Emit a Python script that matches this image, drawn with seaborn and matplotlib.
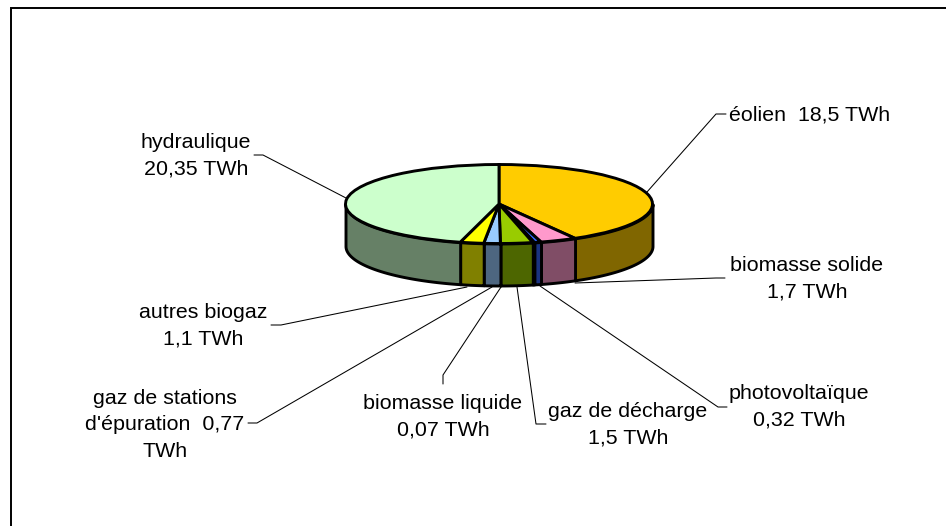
import matplotlib
matplotlib.use("Agg")
import matplotlib.pyplot as plt
import numpy as np
import seaborn as sns

# --- data ---
names = ["éolien", "biomasse solide", "photovoltaïque", "biomasse liquide",
         "gaz de décharge", "gaz de stations d'épuration", "autres biogaz", "hydraulique"]
values = [18.5, 1.7, 0.32, 0.07, 1.5, 0.77, 1.1, 20.35]
top_colors = ["#FFCC00", "#FF99CC", "#3366FF", "#333399",
              "#99CC00", "#99CCFF", "#FFFF00", "#CCFFCC"]
labels = ["éolien  18,5 TWh", "biomasse solide\n1,7 TWh", "photovoltaïque\n0,32 TWh",
          "biomasse liquide\n0,07 TWh", "gaz de décharge\n1,5 TWh",
          "gaz de stations\nd'épuration  0,77\nTWh", "autres biogaz\n1,1 TWh",
          "hydraulique\n20,35 TWh"]

W, H = 946, 526
sns.set_theme(style="white")
plt.rcParams["font.family"] = ["Liberation Sans", "DejaVu Sans"]

fig = plt.figure(figsize=(W / 100, H / 100), dpi=100)

# overlay in pixel coordinates for frame, leaders and labels
ov = fig.add_axes([0, 0, 1, 1], zorder=3)
ov.set_xlim(0, W)
ov.set_ylim(H, 0)
ov.axis("off")
ov.patch.set_alpha(0)

# pie axes: unit circle maps to ellipse
cx, cy, a, b, depth = 499, 204, 153.5, 39.5, 42
ax = fig.add_axes([(cx - a) / W, 1 - (cy + b) / H, 2 * a / W, 2 * b / H], zorder=2)
lw = 2.1
ax.pie(values, colors=top_colors, startangle=90, counterclock=False, radius=1,
       wedgeprops=dict(edgecolor="black", linewidth=lw, zorder=5, clip_on=False))
ax.set_aspect("auto")
ax.set_xlim(-1, 1)
ax.set_ylim(-1, 1)
for s in ax.spines.values():
    s.set_visible(False)

# side wall from the same values
rgb = sns.color_palette(top_colors)
side = [tuple(c * 0.5 for c in col) for col in rgb]
edges = np.cumsum([0] + values) / sum(values) * 360
d = depth / b
for i, col in enumerate(side):
    t0, t1 = max(edges[i], 90), min(edges[i + 1], 270)
    if t1 <= t0:
        continue
    th = np.radians(np.linspace(t0, t1, 80))
    x, y = np.sin(th), np.cos(th)
    ax.fill_between(x, y, y - d, facecolor=col, edgecolor="black", linewidth=lw,
                    zorder=3, clip_on=False)

# frame: only the top and left edges fall inside the picture
ov.plot([11, 11, W + 2], [H + 2, 8, 8], color="black", lw=1.4, solid_joinstyle="miter")

# leaders
leaders = [
    [(647, 192), (716, 114), (726, 114)],
    [(575, 283), (716, 278), (725, 278)],
    [(540, 286), (718, 407), (727, 407)],
    [(501, 287), (443, 375), (443, 384)],
    [(517, 287), (536, 424), (546, 424)],
    [(492, 287), (257, 423), (248, 423)],
    [(467, 287), (281, 325), (271, 325)],
    [(346, 198), (263, 155), (254, 155)],
]
for pts in leaders:
    xs, ys = zip(*pts)
    ov.plot(xs, ys, color="black", lw=0.75)

# labels
label_pos = [(810, 115), (807, 278.5), (799, 406.5), (443, 416.5), (628, 424.5),
             (165, 425), (203, 326), (196, 156)]
for (x, y), t in zip(label_pos, labels):
    ov.text(x, y, t, ha="center", va="center", fontsize=15.4, color="black",
            linespacing=1.5)

fig.savefig("out.png", dpi=100, facecolor="white")
